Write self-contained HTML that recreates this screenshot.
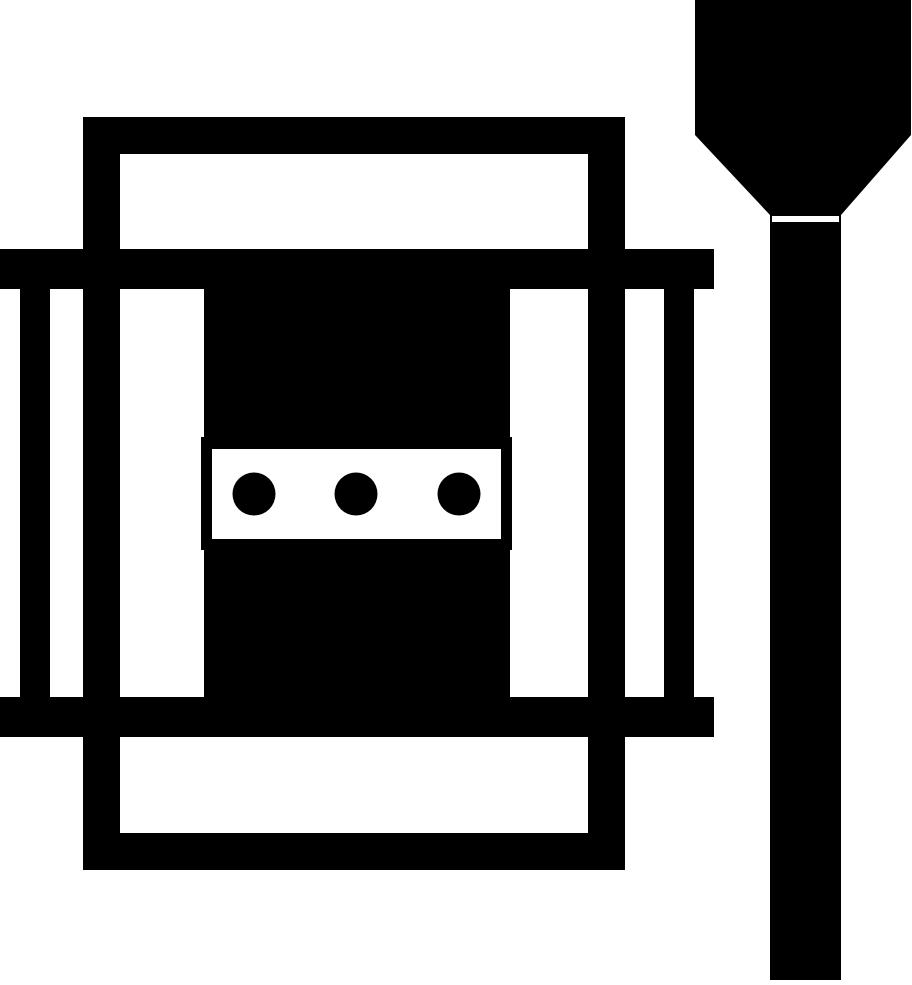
<!DOCTYPE html>
<html><head><style>html,body{margin:0;padding:0;background:#fff}</style></head>
<body>
<svg width="912" height="980" viewBox="0 0 912 980" xmlns="http://www.w3.org/2000/svg">
<rect width="912" height="980" fill="#fff"/>
<rect x="101.5" y="135.5" width="505" height="716" fill="none" stroke="#000" stroke-width="37"/>
<rect x="0" y="249" width="714" height="40" fill="#000"/>
<rect x="0" y="697" width="714" height="40" fill="#000"/>
<rect x="20" y="289" width="30" height="408" fill="#000"/>
<rect x="664" y="289" width="30" height="408" fill="#000"/>
<rect x="204" y="289" width="306" height="408" fill="#000"/>
<rect x="201" y="437" width="311" height="113" fill="#000"/>
<rect x="212" y="449" width="289" height="90" fill="#fff"/>
<circle cx="254" cy="494" r="21.5" fill="#000"/>
<circle cx="356" cy="494" r="21.5" fill="#000"/>
<circle cx="459" cy="494" r="21.5" fill="#000"/>
<polygon points="695,0 911,0 911,135 841,215 770,215 695,135" fill="#000"/>
<rect x="770" y="223" width="71" height="757" fill="#000"/>
<rect x="770" y="215" width="71" height="8" fill="#000"/>
<rect x="772" y="216" width="67" height="6" fill="#fff"/>
</svg>
</body></html>
